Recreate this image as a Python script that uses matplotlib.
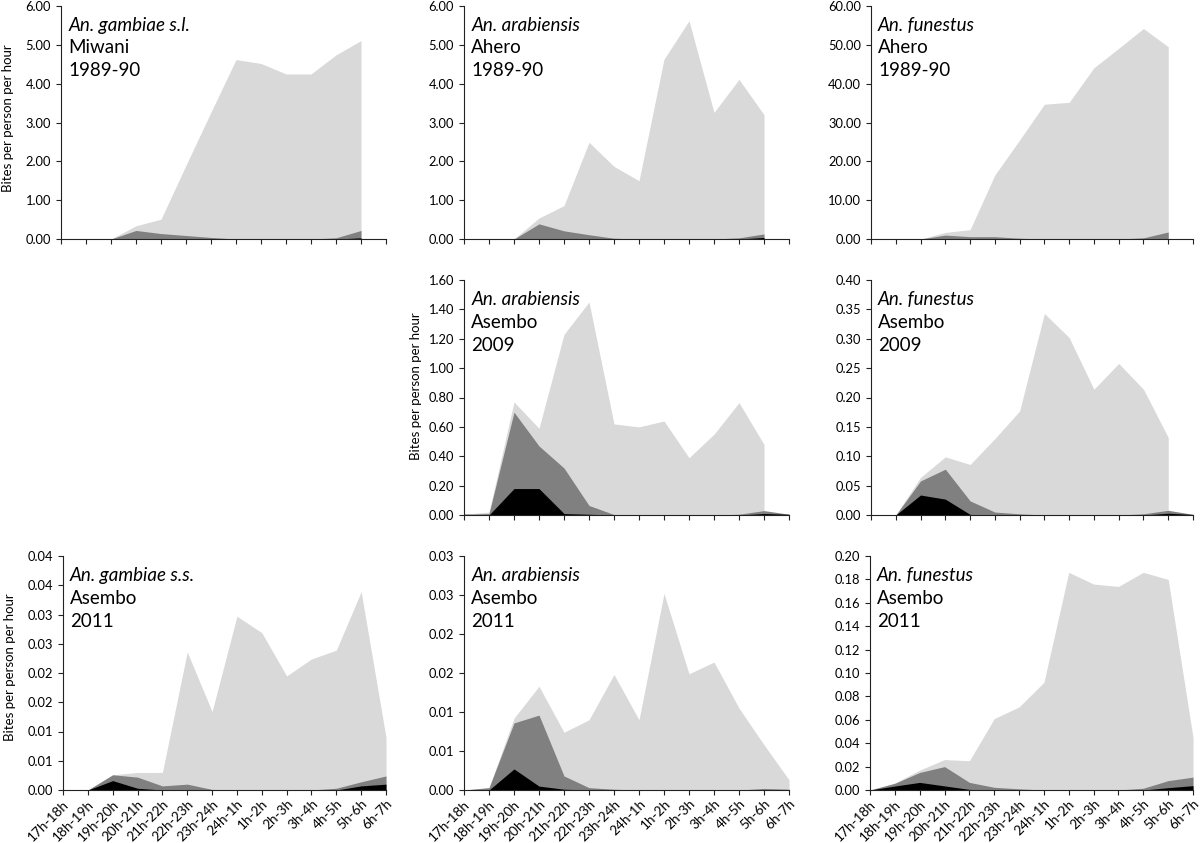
import matplotlib
matplotlib.use('Agg')
import matplotlib.pyplot as plt
import numpy as np
from decimal import Decimal, ROUND_HALF_UP
from matplotlib.ticker import FuncFormatter

plt.rcParams['font.family'] = ['Lato', 'DejaVu Sans']

nan = np.nan
hours = ['17h-18h', '18h-19h', '19h-20h', '20h-21h', '21h-22h', '22h-23h', '23h-24h',
         '24h-1h', '1h-2h', '2h-3h', '3h-4h', '4h-5h', '5h-6h', '6h-7h']

# An. gambiae s.l., Miwani 1989-90
gsl_miwani_light = [nan, nan, 0, 0.34, 0.51, 1.90, 3.27, 4.62, 4.52, 4.25, 4.25, 4.74, 5.11, nan]
gsl_miwani_dark = [nan, nan, 0, 0.22, 0.14, 0.09, 0.04, 0, 0, 0, 0, 0.03, 0.22, nan]
gsl_miwani_black = [nan, nan, 0, 0, 0, 0, 0, 0, 0, 0, 0, 0, 0.03, nan]

# An. arabiensis, Ahero 1989-90
ara_ahero_light = [nan, nan, 0, 0.54, 0.86, 2.49, 1.87, 1.50, 4.63, 5.62, 3.26, 4.11, 3.20, nan]
ara_ahero_dark = [nan, nan, 0, 0.39, 0.21, 0.11, 0.02, 0, 0, 0, 0, 0.03, 0.13, nan]
ara_ahero_black = [nan, nan, 0, 0, 0, 0, 0, 0, 0, 0, 0, 0, 0.04, nan]

# An. funestus, Ahero 1989-90
fun_ahero_light = [nan, nan, 0, 1.7, 2.4, 16.5, 25.5, 34.7, 35.2, 44.1, 49.1, 54.2, 49.5, nan]
fun_ahero_dark = [nan, nan, 0, 1.0, 0.6, 0.6, 0.2, 0, 0, 0, 0, 0.3, 1.8, nan]
fun_ahero_black = [nan, nan, 0, 0, 0, 0, 0, 0, 0, 0, 0, 0, 0.1, nan]

# An. arabiensis, Asembo 2009
ara_a09_light = [0.005, 0.02, 0.77, 0.59, 1.23, 1.45, 0.62, 0.60, 0.64, 0.39, 0.55, 0.765, 0.48, nan]
ara_a09_dark = [0.005, 0.01, 0.70, 0.47, 0.32, 0.065, 0.003, 0, 0, 0, 0, 0.005, 0.03, 0.005]
ara_a09_black = [0.005, 0.0, 0.18, 0.18, 0.01, 0.005, 0, 0, 0, 0, 0, 0, 0.01, 0.005]

# An. funestus, Asembo 2009
fun_a09_light = [0, 0, 0.064, 0.099, 0.086, 0.13, 0.177, 0.343, 0.302, 0.214, 0.258, 0.214, 0.132, nan]
fun_a09_dark = [0, 0, 0.058, 0.078, 0.024, 0.005, 0.002, 0, 0, 0, 0, 0.002, 0.008, 0.001]
fun_a09_black = [0, 0, 0.034, 0.027, 0.001, 0, 0, 0, 0, 0, 0, 0, 0.003, 0.001]

# An. gambiae s.s., Asembo 2011
gss_a11_light = [nan, 0, 0.0026, 0.003, 0.003, 0.0236, 0.0134, 0.0297, 0.0269, 0.0195, 0.0224, 0.0239, 0.0339, 0.009]
gss_a11_dark = [nan, 0, 0.0026, 0.0022, 0.0007, 0.001, 0.0001, 0, 0, 0, 0, 0.0003, 0.0014, 0.0024]
gss_a11_black = [nan, 0, 0.0016, 0.0003, 0, 0, 0, 0, 0, 0, 0, 0, 0.0007, 0.001]

# An. arabiensis, Asembo 2011
ara_a11_light = [0, 0.0003, 0.0092, 0.0133, 0.0074, 0.009, 0.0148, 0.009, 0.0252, 0.0149, 0.0164, 0.0105, 0.0058, 0.0013]
ara_a11_dark = [0, 0.0003, 0.0086, 0.0096, 0.0018, 0.0003, 0.0001, 0, 0, 0, 0, 0, 0.0002, 0.0001]
ara_a11_black = [0, 0, 0.0027, 0.0005, 0.0001, 0, 0, 0, 0, 0, 0, 0, 0, 0]

# An. funestus, Asembo 2011
fun_a11_light = [0, 0.006, 0.017, 0.026, 0.025, 0.061, 0.071, 0.092, 0.186, 0.176, 0.174, 0.186, 0.180, 0.045]
fun_a11_dark = [0, 0.0057, 0.015, 0.020, 0.0065, 0.0023, 0.001, 0, 0, 0, 0, 0.0015, 0.008, 0.011]
fun_a11_black = [0, 0.0034, 0.0065, 0.0035, 0.0005, 0, 0, 0, 0, 0, 0, 0, 0.002, 0.0037]

LIGHT = '#d9d9d9'
DARK = '#808080'
BLACK = '#000000'

W, H = 1200, 843
fig = plt.figure(figsize=(12, 8.43), dpi=100)


def excel_fmt(v, pos):
    # Excel rounds half up (0.015 -> 0.02)
    return str(Decimal(str(round(v, 6))).quantize(Decimal('0.01'), rounding=ROUND_HALF_UP))


def make_panel(left, top, bottom, right, light, dark, black, ymax, step,
               species, site, year, ylabel=None, xlabels=False):
    ax = fig.add_axes([left / W, 1 - bottom / H, (right - left) / W, (bottom - top) / H])
    x = np.arange(len(hours))
    ax.fill_between(x, np.array(light, float), 0, color=LIGHT, linewidth=0, zorder=1)
    ax.fill_between(x, np.array(dark, float), 0, color=DARK, linewidth=0, zorder=2)
    ax.fill_between(x, np.array(black, float), 0, color=BLACK, linewidth=0, zorder=3)

    ax.set_xlim(0, len(hours) - 1)
    ax.set_ylim(0, ymax)
    ax.set_yticks(np.arange(0, ymax + step / 2, step))
    ax.yaxis.set_major_formatter(FuncFormatter(excel_fmt))
    ax.set_xticks(x)
    if xlabels:
        ax.set_xticklabels(hours, rotation=45, ha='right', rotation_mode='anchor', fontsize=9.8)
    else:
        ax.set_xticklabels([])

    for s in ['top', 'right']:
        ax.spines[s].set_visible(False)
    for s in ['left', 'bottom']:
        ax.spines[s].set_linewidth(0.8)
        ax.spines[s].set_color('#222222')
        ax.spines[s].set_zorder(5)
    ax.tick_params(axis='both', direction='out', length=3.6, width=0.8, color='#222222', pad=3.5)
    ax.tick_params(axis='y', labelsize=9.3)
    ax.tick_params(axis='x', pad=2)
    ax.set_facecolor('none')

    ax.text(0.022, 0.915, species, transform=ax.transAxes, fontsize=13.5,
            style='italic', va='center', ha='left', zorder=6)
    ax.text(0.022, 0.82, site, transform=ax.transAxes, fontsize=13.5,
            va='center', ha='left', zorder=6)
    ax.text(0.022, 0.722, year, transform=ax.transAxes, fontsize=13.5,
            va='center', ha='left', zorder=6)

    if ylabel is not None:
        ax.set_ylabel('Bites per person per hour', fontsize=9.5)
        ax.yaxis.set_label_coords(*ylabel)
    return ax


cols = [(61, 386), (464, 789), (871, 1193)]
rows = [(6, 239), (280, 515), (556, 790)]

make_panel(cols[0][0], rows[0][0], rows[0][1], cols[0][1],
           gsl_miwani_light, gsl_miwani_dark, gsl_miwani_black, 6, 1,
           'An. gambiae s.l.', 'Miwani', '1989-90', ylabel=(-0.145, 0.52))
make_panel(cols[1][0], rows[0][0], rows[0][1], cols[1][1],
           ara_ahero_light, ara_ahero_dark, ara_ahero_black, 6, 1,
           'An. arabiensis', 'Ahero', '1989-90')
make_panel(cols[2][0], rows[0][0], rows[0][1], cols[2][1],
           fun_ahero_light, fun_ahero_dark, fun_ahero_black, 60, 10,
           'An. funestus', 'Ahero', '1989-90')

make_panel(cols[1][0], rows[1][0], rows[1][1], cols[1][1],
           ara_a09_light, ara_a09_dark, ara_a09_black, 1.6, 0.2,
           'An. arabiensis', 'Asembo', '2009', ylabel=(-0.13, 0.55))
make_panel(cols[2][0], rows[1][0], rows[1][1], cols[2][1],
           fun_a09_light, fun_a09_dark, fun_a09_black, 0.4, 0.05,
           'An. funestus', 'Asembo', '2009')

make_panel(cols[0][0] + 2, rows[2][0], rows[2][1], cols[0][1],
           gss_a11_light, gss_a11_dark, gss_a11_black, 0.04, 0.005,
           'An. gambiae s.s.', 'Asembo', '2011', ylabel=(-0.145, 0.525), xlabels=True)
make_panel(cols[1][0], rows[2][0], rows[2][1], cols[1][1],
           ara_a11_light, ara_a11_dark, ara_a11_black, 0.03, 0.005,
           'An. arabiensis', 'Asembo', '2011', xlabels=True)
make_panel(cols[2][0] - 1, rows[2][0], rows[2][1], cols[2][1],
           fun_a11_light, fun_a11_dark, fun_a11_black, 0.2, 0.02,
           'An. funestus', 'Asembo', '2011', xlabels=True)

fig.savefig('out.png', dpi=100, facecolor='white')
